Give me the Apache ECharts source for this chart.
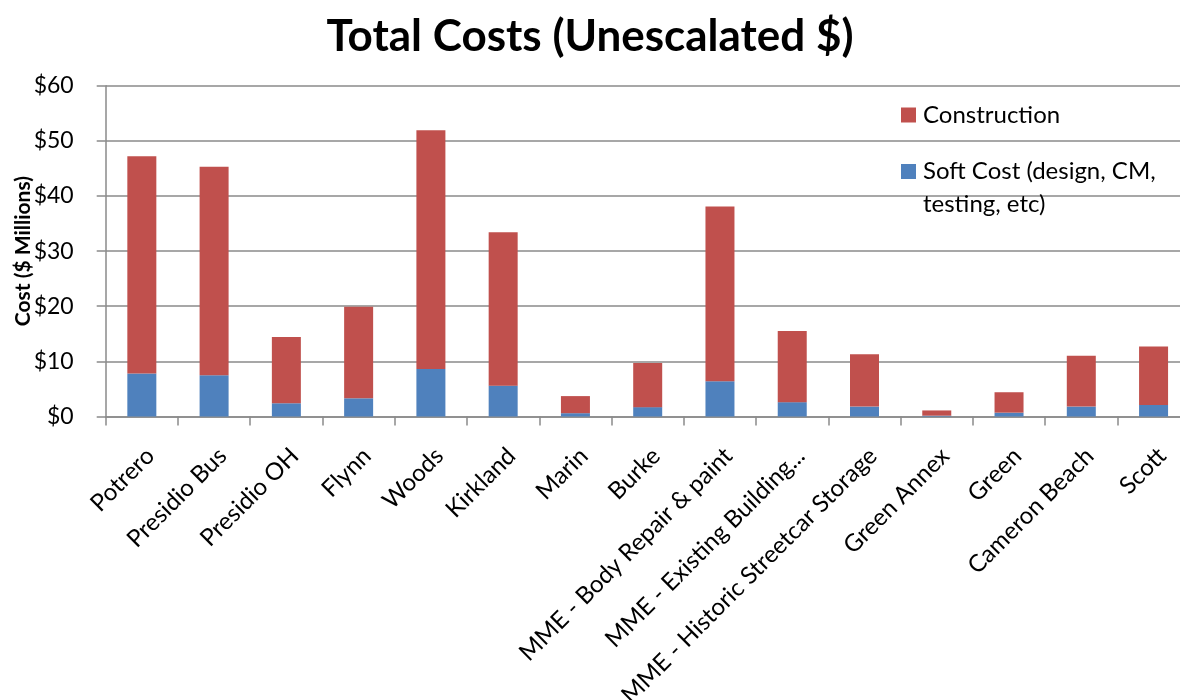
<!DOCTYPE html>
<html>
<head>
<meta charset="utf-8">
<script src="https://cdn.jsdelivr.net/npm/echarts@6/dist/echarts.min.js"></script>
<style>
  html, body { margin: 0; padding: 0; background: #fff; }
  #chart { width: 1180px; height: 700px; }
</style>
</head>
<body>
<div id="chart"></div>
<script>
// Facility projects ($ millions, unescalated)
const categories = [
  'Potrero', 'Presidio Bus', 'Presidio OH', 'Flynn', 'Woods', 'Kirkland',
  'Marin', 'Burke', 'MME - Body Repair & paint', 'MME - Existing Building...',
  'MME - Historic Streetcar Storage', 'Green Annex', 'Green', 'Cameron Beach', 'Scott'
];
const softCost = [7.8, 7.5, 2.4, 3.3, 8.6, 5.6, 0.6, 1.7, 6.4, 2.6, 1.8, 0.15, 0.7, 1.8, 2.1];
const construction = [39.4, 37.8, 12.0, 16.6, 43.3, 27.8, 3.1, 8.0, 31.7, 12.9, 9.5, 0.95, 3.7, 9.2, 10.6];
const yTicks = { min: 0, max: 60, step: 10 };

const SOFT_NAME = 'Soft Cost (design, CM, testing, etc)';
const CONSTR_NAME = 'Construction';
const FONT = 'Lato, "Open Sans", sans-serif';
const GRID_GRAY = '#8a8a8a';

const chart = echarts.init(document.getElementById('chart'), null, { renderer: 'canvas' });

chart.setOption({
  animation: false,
  backgroundColor: '#ffffff',
  title: {
    text: 'Total Costs (Unescalated $)',
    left: 'center',
    top: 10,
    textStyle: { fontFamily: FONT, fontWeight: 'bold', fontSize: 44, color: '#000' }
  },
  legend: [
    {
      data: [CONSTR_NAME],
      left: 901, top: 103, padding: 0,
      itemWidth: 15, itemHeight: 15,
      icon: 'rect',
      selectedMode: false,
      textStyle: { fontFamily: FONT, fontSize: 24, color: '#000', padding: [0, 0, 0, 2] }
    },
    {
      data: [SOFT_NAME],
      left: 901, top: 122, padding: 0,
      itemWidth: 15, itemHeight: 15,
      icon: 'rect',
      selectedMode: false,
      formatter: () => '\nSoft Cost (design, CM,\ntesting, etc)',
      textStyle: { fontFamily: FONT, fontSize: 24, color: '#000', lineHeight: 33, padding: [0, 0, 0, 2] }
    }
  ],
  grid: {
    left: 105.7, top: 85.7, width: 1084, height: 330.8,
    containLabel: false,
    outerBoundsMode: 'none'
  },
  xAxis: {
    type: 'category',
    data: categories,
    boundaryGap: true,
    axisLine: { show: true, lineStyle: { color: GRID_GRAY, width: 1.5 } },
    axisTick: { show: true, length: 9, alignWithLabel: false, lineStyle: { color: GRID_GRAY, width: 1.5 } },
    axisLabel: {
      interval: 0,
      rotate: 45,
      margin: 27,
      align: 'right',
      verticalAlign: 'top',
      fontFamily: FONT,
      fontSize: 24,
      color: '#000'
    }
  },
  yAxis: {
    type: 'value',
    min: yTicks.min,
    max: yTicks.max,
    interval: yTicks.step,
    name: 'Cost ($ Millions)',
    nameLocation: 'middle',
    nameGap: 72,
    nameMoveOverlap: false,
    nameTextStyle: { fontFamily: FONT, fontWeight: 'bold', fontSize: 21, color: '#000' },
    axisLine: { show: true, lineStyle: { color: GRID_GRAY, width: 1.5 } },
    axisTick: { show: true, length: 9, lineStyle: { color: GRID_GRAY, width: 1.5 } },
    axisLabel: {
      formatter: v => '$' + v,
      margin: 32,
      fontFamily: FONT,
      fontSize: 23,
      color: '#000'
    },
    splitLine: { show: true, lineStyle: { color: GRID_GRAY, width: 1.5 } }
  },
  series: [
    {
      name: SOFT_NAME,
      type: 'bar',
      stack: 'total',
      barWidth: 29,
      data: softCost,
      itemStyle: { color: '#4F81BD' }
    },
    {
      name: CONSTR_NAME,
      type: 'bar',
      stack: 'total',
      barWidth: 29,
      data: construction,
      itemStyle: { color: '#C0504D' }
    }
  ]
});
</script>
</body>
</html>
